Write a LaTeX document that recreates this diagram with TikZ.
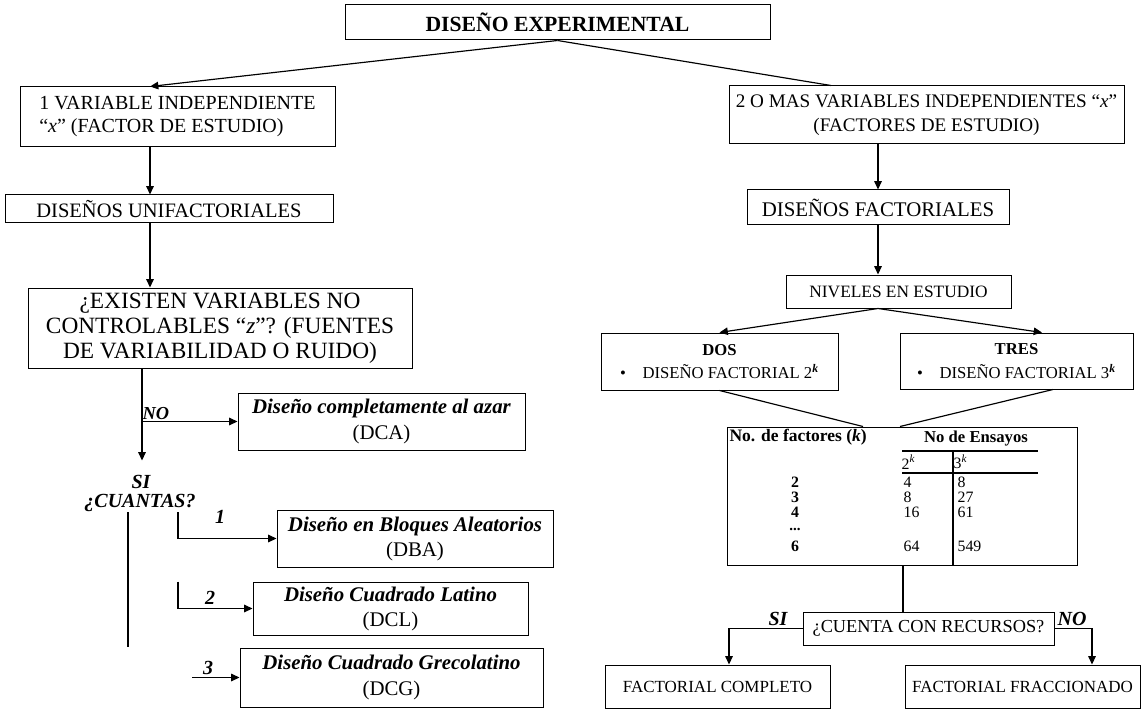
\documentclass[tikz,border=0pt]{standalone}
\usepackage{fontspec}
\setmainfont{Liberation Serif}
\usetikzlibrary{arrows.meta}
\newcommand{\fsz}[2]{\fontsize{#1}{#2}\selectfont}
\tikzset{
  box/.style={draw, line width=0.6pt, inner sep=1pt, align=center},
  sz/.style 2 args={minimum width=#1*0.6pt, minimum height=#2*0.6pt},
  lbl/.style={font=\fsz{12}{14}\bfseries\itshape, inner sep=0pt},
  num/.style={font=\fsz{9.5}{11}, inner sep=0pt, anchor=west},
}
\begin{document}
\begin{tikzpicture}[x=0.6pt, y=-0.6pt, line width=0.7pt, >={Triangle[length=5pt,width=4.5pt]}]
\useasboundingbox (0,0) rectangle (1143,710);

% cajas
\node (exp) [box, sz={425}{35}, font=\fsz{13}{15}\bfseries] at (557.5,22.5) {DISEÑO EXPERIMENTAL};
\node (una) [box, sz={315}{60}, align=left, font=\fsz{12}{13.8}] at (177.5,117) {1 VARIABLE INDEPENDIENTE\\``\textit{x}'' (FACTOR DE ESTUDIO)};
\node (varias) [box, sz={395}{58}, font=\fsz{11.5}{14.5}] at (926.5,115) {2 O MAS VARIABLES INDEPENDIENTES ``\textit{x}''\\(FACTORES DE ESTUDIO)};
\node (unif) [box, sz={328}{28}, font=\fsz{12.3}{14}] at (169,209) {DISEÑOS UNIFACTORIALES};
\node (fact) [box, sz={262}{35}, font=\fsz{12.5}{14}] at (878,207.5) {DISEÑOS FACTORIALES};
\node (ruido) [box, sz={384}{80}, font=\fsz{14}{15}] at (220,328) {¿EXISTEN VARIABLES NO\\CONTROLABLES ``\textit{z}''? (FUENTES\\DE VARIABILIDAD O RUIDO)};
\node (niveles) [box, sz={225}{33}, font=\fsz{10.4}{12}] at (898.5,291.5) {NIVELES EN ESTUDIO};
\node (dos) [box, sz={237}{57}, font=\fsz{10}{14}] at (719.5,361.5) {\textbf{DOS}\\\textbullet\quad DISEÑO FACTORIAL 2\textsuperscript{\textbf{\textit{k}}}};
\node (tres) [box, sz={233}{56}, font=\fsz{10}{14}] at (1016.5,361) {\textbf{TRES}\\\textbullet\quad DISEÑO FACTORIAL 3\textsuperscript{\textbf{\textit{k}}}};

% disenos con un factor
\node (dca) [box, sz={287}{57}, font=\fsz{12.5}{16}] at (381.5,421.5) {\textbf{\textit{Diseño completamente al azar}}\\(DCA)};
\node (dba) [box, sz={276}{57}, font=\fsz{12.5}{15}] at (415,538.5) {\textbf{\textit{Diseño en Bloques Aleatorios}}\\(DBA)};
\node (dcl) [box, sz={275}{53}, font=\fsz{12.5}{15}] at (390.5,608.5) {\textbf{\textit{Diseño Cuadrado Latino}}\\(DCL)};
\node (dcg) [box, sz={303}{59}, font=\fsz{12.5}{16}] at (391.5,677.5) {\textbf{\textit{Diseño Cuadrado Grecolatino}}\\(DCG)};

% tabla de ensayos
\node (tabla) [box, sz={350}{138}] at (902,496) {};
\node (tfac) [inner sep=0pt, anchor=west, font=\fsz{10.5}{12}\bfseries] at (729,437) {No. de factores (\textit{k})};
\node (tens) [inner sep=0pt, font=\fsz{10}{12}\bfseries] at (976,439) {No de Ensayos};
\draw (902,451) -- (1038,451);
\node (t2k) [num] at (901,462) {2\textsuperscript{\textit{k}}};
\node (t3k) [num] at (953,462) {3\textsuperscript{\textit{k}}};
\draw (902,473) -- (1038,473);
\coordinate (xdiv) at (953,0);
\draw (953,451) -- (tabla.south -| xdiv);
\foreach \k/\a/\b/\y in {2/4/8/482, 3/8/27/497, 4/16/61/512, 6/64/549/546} {
  \node (k\k) [num, anchor=center, font=\fsz{9.5}{11}\bfseries] at (795,\y) {\k};
  \node (a\k) [num] at (903,\y) {\a};
  \node (b\k) [num] at (957,\y) {\b};
}
\node (kdots) [num, anchor=center, font=\fsz{9}{10}\bfseries] at (795,529) {...};

\node (recursos) [box, sz={251}{33}, font=\fsz{11}{13}] at (928.5,628.5) {¿CUENTA CON RECURSOS?};
\node (completo) [box, sz={225}{43}, font=\fsz{10.2}{12}] at (717.5,686.5) {FACTORIAL COMPLETO};
\node (fracc) [box, sz={235}{43}, font=\fsz{10.2}{12}] at (1022.5,686.5) {FACTORIAL FRACCIONADO};

% columnas de las flechas
\coordinate (xa) at (150,0);
\coordinate (xb) at (142,0);
\coordinate (xc) at (128,0);
\coordinate (xd) at (178,0);
\coordinate (x3) at (192,0);
\coordinate (xr) at (831,0);
\coordinate (xt) at (1042,0);
\coordinate (xv1) at (863,0);
\coordinate (xv2) at (900,0);
\coordinate (xv3) at (1053,0);
\coordinate (xk) at (903,0);
\coordinate (xfc) at (729,0);
\coordinate (xff) at (1092,0);

% lado izquierdo
\draw[->] (exp.south) -- (una.north -| xa);
\draw (exp.south) -- (varias.north -| xr);
\draw[->] (una.south -| xa) -- (unif.north -| xa);
\draw[->] (unif.south -| xa) -- (ruido.north -| xa);
\draw[->] (ruido.south -| xb) -- ++(0,92);
\draw[->] (xb |- dca.west) -- (dca.west);
\node (no1) [lbl, font=\fsz{11}{13}\bfseries\itshape, anchor=south west, yshift=1pt] at (xb |- dca.west) {NO};
\node (si1) [lbl] at (141,482) {SI};
\node (cuantas) [lbl] at (140,503) {¿CUANTAS?};
\draw (cuantas.south -| xc) -- ++(0,135);
\draw[->] (cuantas.south -| xd) |- (dba.west);
\node (uno) [lbl] at (220,517) {1};
\draw[->] (dcl.north -| xd) |- (dcl.west);
\node (dosl) [lbl, anchor=south] at (210,605) {2};
\draw[->] (x3 |- dcg.west) -- (dcg.west);
\node (tresl) [lbl, anchor=south] at (208,675) {3};

% lado derecho
\draw[->] (varias.south -| fact.north) -- (fact.north);
\draw[->] (fact.south) -- (niveles.north -| fact.south);
\draw[->] (niveles.south -| fact.south) -- (dos.north);
\draw[->] (niveles.south -| fact.south) -- (tres.north -| xt);
\draw (dos.south) -- (tabla.north -| xv1);
\draw (tres.south -| xv3) -- (tabla.north -| xv2);
\draw (tabla.south -| xk) -- (recursos.north -| xk);
\draw[->] (recursos.west) -| (completo.north -| xfc);
\draw[->] (recursos.east) -| (fracc.north -| xff);
\node (si2) [lbl, anchor=south] at (778,626) {SI};
\node (no2) [lbl, anchor=south] at (1072,626) {NO};
\end{tikzpicture}
\end{document}
